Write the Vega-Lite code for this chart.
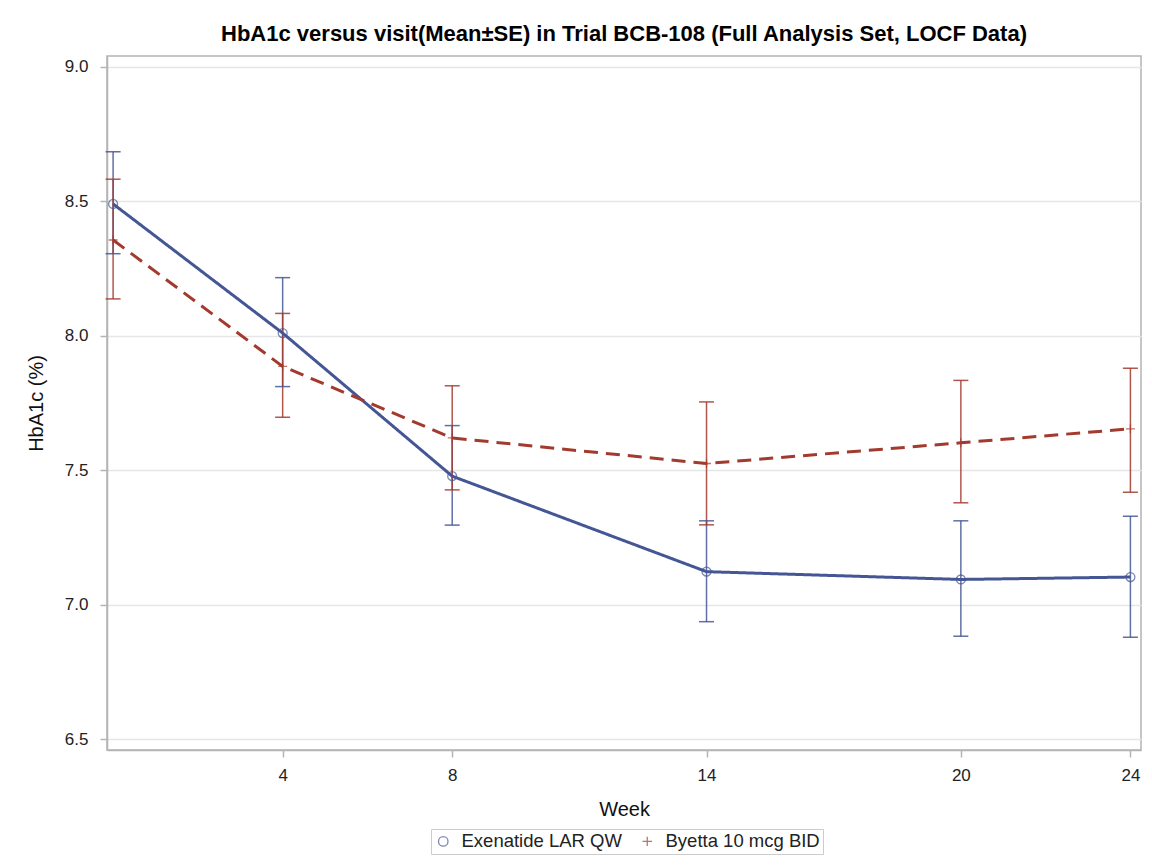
{
  "$schema": "https://vega.github.io/schema/vega-lite/v6.json",
  "width": 1034,
  "height": 694,
  "autosize": {"type": "none"},
  "padding": {"left": 107, "top": 56, "right": 11, "bottom": 115},
  "background": "white",
  "title": {
    "text": "HbA1c versus visit(Mean±SE) in Trial BCB-108 (Full Analysis Set, LOCF Data)",
    "font": "Liberation Sans",
    "fontSize": 22,
    "fontWeight": "bold",
    "color": "#000000",
    "anchor": "middle",
    "frame": "group",
    "offset": 10
  },
  "data": {
    "values": [
      {"week": 0, "group": "Exenatide LAR QW", "mean": 8.49, "lower": 8.305, "upper": 8.684},
      {"week": 4, "group": "Exenatide LAR QW", "mean": 8.01, "lower": 7.811, "upper": 8.216},
      {"week": 8, "group": "Exenatide LAR QW", "mean": 7.478, "lower": 7.296, "upper": 7.666},
      {"week": 14, "group": "Exenatide LAR QW", "mean": 7.123, "lower": 6.937, "upper": 7.312},
      {"week": 20, "group": "Exenatide LAR QW", "mean": 7.094, "lower": 6.883, "upper": 7.312},
      {"week": 24, "group": "Exenatide LAR QW", "mean": 7.103, "lower": 6.879, "upper": 7.329},
      {"week": 0, "group": "Byetta 10 mcg BID", "mean": 8.356, "lower": 8.137, "upper": 8.582},
      {"week": 4, "group": "Byetta 10 mcg BID", "mean": 7.886, "lower": 7.697, "upper": 8.083},
      {"week": 8, "group": "Byetta 10 mcg BID", "mean": 7.62, "lower": 7.427, "upper": 7.814},
      {"week": 14, "group": "Byetta 10 mcg BID", "mean": 7.525, "lower": 7.297, "upper": 7.754},
      {"week": 20, "group": "Byetta 10 mcg BID", "mean": 7.602, "lower": 7.379, "upper": 7.834},
      {"week": 24, "group": "Byetta 10 mcg BID", "mean": 7.654, "lower": 7.418, "upper": 7.879}
    ]
  },
  "encoding": {
    "x": {
      "field": "week",
      "type": "quantitative",
      "scale": {"domain": [-0.144, 24.25], "nice": false, "zero": false},
      "axis": {
        "title": "Week",
        "values": [4, 8, 14, 20, 24],
        "grid": false,
        "tickSize": 7,
        "labelPadding": 10,
        "titlePadding": 16
      }
    }
  },
  "layer": [
    {
      "mark": {"type": "rule", "strokeWidth": 1.5, "opacity": 0.85},
      "encoding": {
        "y": {"field": "lower", "type": "quantitative", "title": "HbA1c (%)",
              "scale": {"domain": [6.46, 9.04], "nice": false, "zero": false},
              "axis": {"values": [6.5, 7.0, 7.5, 8.0, 8.5, 9.0], "format": ".1f", "tickSize": 7, "labelPadding": 12, "titlePadding": 18}},
        "y2": {"field": "upper"},
        "stroke": {"field": "group", "type": "nominal", "legend": null,
                   "scale": {"domain": ["Byetta 10 mcg BID", "Exenatide LAR QW"], "range": ["#A23A2E", "#445694"]}}
      }
    },
    {
      "mark": {"type": "tick", "orient": "horizontal", "size": 15, "thickness": 1.5, "opacity": 0.85},
      "encoding": {
        "y": {"field": "lower", "type": "quantitative", "title": "HbA1c (%)"},
        "fill": {"field": "group", "type": "nominal", "legend": null,
                 "scale": {"domain": ["Byetta 10 mcg BID", "Exenatide LAR QW"], "range": ["#A23A2E", "#445694"]}}
      }
    },
    {
      "mark": {"type": "tick", "orient": "horizontal", "size": 15, "thickness": 1.5, "opacity": 0.85},
      "encoding": {
        "y": {"field": "upper", "type": "quantitative", "title": "HbA1c (%)"},
        "fill": {"field": "group", "type": "nominal", "legend": null,
                 "scale": {"domain": ["Byetta 10 mcg BID", "Exenatide LAR QW"], "range": ["#A23A2E", "#445694"]}}
      }
    },
    {
      "mark": {"type": "line", "strokeWidth": 3},
      "encoding": {
        "y": {"field": "mean", "type": "quantitative", "title": "HbA1c (%)"},
        "stroke": {"field": "group", "type": "nominal", "legend": null,
                   "scale": {"domain": ["Byetta 10 mcg BID", "Exenatide LAR QW"], "range": ["#A23A2E", "#445694"]}},
        "strokeDash": {
          "field": "group",
          "type": "nominal",
          "scale": {"domain": ["Byetta 10 mcg BID", "Exenatide LAR QW"], "range": [[14, 8], [1, 0]]},
          "legend": null
        }
      }
    },
    {
      "mark": {"type": "point", "filled": false, "strokeWidth": 1.3, "size": 80},
      "encoding": {
        "y": {"field": "mean", "type": "quantitative", "title": "HbA1c (%)"},
        "color": {
          "field": "group",
          "type": "nominal",
          "scale": {"domain": ["Exenatide LAR QW", "Byetta 10 mcg BID"], "range": ["#445694", "#A23A2E"]},
          "legend": {"title": null, "orient": "none", "legendX": 324, "legendY": 773}
        },
        "shape": {
          "field": "group",
          "type": "nominal",
          "scale": {"domain": ["Exenatide LAR QW", "Byetta 10 mcg BID"], "range": ["circle", "M-1,0L1,0M0,-1L0,1"]},
          "legend": {"title": null, "orient": "none", "legendX": 324, "legendY": 773}
        }
      }
    }
  ],
  "config": {
    "view": {"stroke": "#b4b4b4", "strokeWidth": 1.5},
    "legend": {
      "direction": "horizontal",
      "labelFont": "Liberation Sans",
      "labelFontSize": 18.5,
      "labelLimit": 400,
      "labelColor": "#222222",
      "symbolSize": 90,
      "symbolStrokeWidth": 1.3,
      "strokeColor": "#cccccc",
      "padding": 3,
      "columnPadding": 16,
      "labelOffset": 9
    },
    "axis": {
      "labelFont": "Liberation Sans",
      "labelFontSize": 17,
      "labelColor": "#222222",
      "titleFont": "Liberation Sans",
      "titleFontSize": 20,
      "titleFontWeight": "normal",
      "titleColor": "#111111",
      "domainColor": "#b4b4b4",
      "domainWidth": 1.5,
      "tickColor": "#b4b4b4",
      "tickWidth": 1.5,
      "gridColor": "#e6e6e6",
      "gridWidth": 1.5
    }
  }
}
